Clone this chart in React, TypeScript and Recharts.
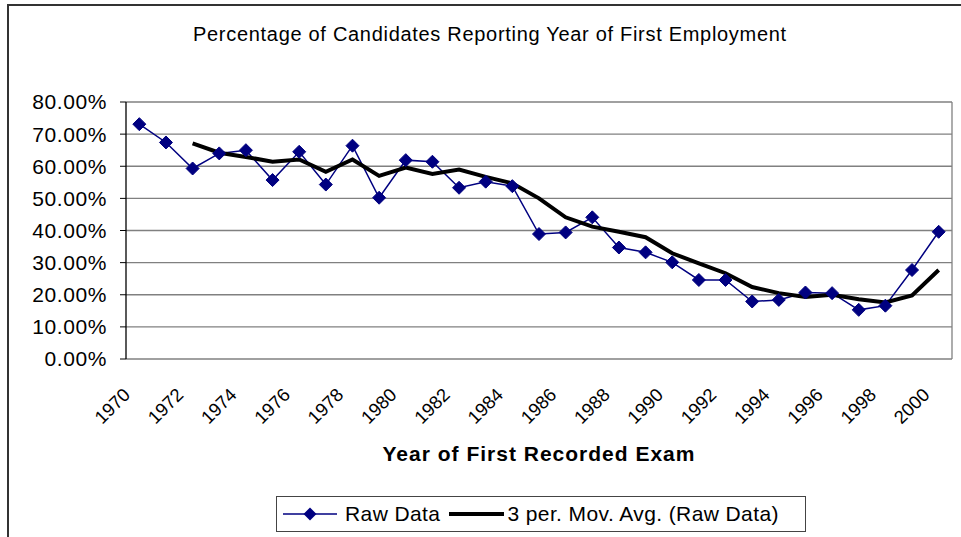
import React from 'react';
import {
  LineChart,
  Line,
  XAxis,
  YAxis,
  CartesianGrid,
  ReferenceLine
} from 'recharts';

// values (percent)
const years = [
  1970, 1971, 1972, 1973, 1974, 1975, 1976, 1977, 1978, 1979,
  1980, 1981, 1982, 1983, 1984, 1985, 1986, 1987, 1988, 1989,
  1990, 1991, 1992, 1993, 1994, 1995, 1996, 1997, 1998, 1999, 2000
];
const rawData = [
  73.1, 67.4, 59.3, 64.0, 65.0, 55.7, 64.5, 54.3, 66.4, 50.2,
  61.9, 61.4, 53.3, 55.2, 53.8, 38.9, 39.4, 44.1, 34.7, 33.2,
  30.1, 24.6, 24.6, 17.9, 18.4, 20.7, 20.5, 15.3, 16.6, 27.7, 39.6
];
const movAvg = [
  null, null, 67.1, 64.2, 62.9, 61.4, 62.1, 58.3, 62.1, 57.0,
  59.6, 57.6, 59.0, 56.7, 54.7, 50.0, 44.1, 41.2, 39.6, 37.9,
  32.9, 29.8, 26.7, 22.4, 20.5, 19.3, 20.0, 18.6, 17.6, 19.8, 27.7
];
const yTicks = [0, 10, 20, 30, 40, 50, 60, 70, 80];
const labelYears = [
  1970, 1972, 1974, 1976, 1978, 1980, 1982, 1984,
  1986, 1988, 1990, 1992, 1994, 1996, 1998, 2000
];
const boundaryTicks = [
  1969.5, 1970.5, 1971.5, 1972.5, 1973.5, 1974.5, 1975.5, 1976.5,
  1977.5, 1978.5, 1979.5, 1980.5, 1981.5, 1982.5, 1983.5, 1984.5,
  1985.5, 1986.5, 1987.5, 1988.5, 1989.5, 1990.5, 1991.5, 1992.5,
  1993.5, 1994.5, 1995.5, 1996.5, 1997.5, 1998.5, 1999.5, 2000.5
];

const chartData = years.map((year, i) => ({
  year,
  raw: rawData[i],
  avg: movAvg[i]
}));

const FONT = '"Liberation Sans", Arial, sans-serif';
const NAVY = '#000080';

const Diamond = (props: any) => {
  const { cx, cy } = props;
  if (cx == null || cy == null) return null;
  const r = 6.5;
  return (
    <path
      d={`M${cx},${cy - r}L${cx + r},${cy}L${cx},${cy + r}L${cx - r},${cy}Z`}
      fill={NAVY}
      stroke={NAVY}
    />
  );
};

const YearTick = (props: any) => {
  const { x, y, payload } = props;
  const ax = x - 8;
  const ay = y + 29;
  return (
    <text
      x={ax}
      y={ay}
      textAnchor="end"
      transform={`rotate(-45, ${ax}, ${ay})`}
      fontFamily={FONT}
      fontSize={18.5}
      fill="#000"
    >
      {payload.value}
    </text>
  );
};

function LegendBox() {
  return (
    <div
      style={{
        position: 'absolute',
        left: 276,
        top: 496,
        width: 522,
        height: 34,
        border: '1px solid #444',
        background: '#fff',
        display: 'flex',
        alignItems: 'center',
        paddingLeft: 6,
        fontFamily: FONT,
        fontSize: 21,
        letterSpacing: 0.4,
        whiteSpace: 'nowrap'
      }}
    >
      <svg width={54} height={16} style={{ marginRight: 8, flex: 'none' }}>
        <line x1={0} y1={8} x2={54} y2={8} stroke={NAVY} strokeWidth={1.5} />
        <path d="M27,1.5L33.5,8L27,14.5L20.5,8Z" fill={NAVY} />
      </svg>
      <span>Raw Data</span>
      <svg width={55} height={16} style={{ margin: '0 3px 0 9px', flex: 'none' }}>
        <line x1={0} y1={8} x2={55} y2={8} stroke="#000" strokeWidth={4} />
      </svg>
      <span>3 per. Mov. Avg. (Raw Data)</span>
    </div>
  );
}

export default function App() {
  return (
    <div
      style={{
        position: 'absolute',
        left: 0,
        top: 0,
        width: 961,
        height: 537,
        overflow: 'hidden',
        background: '#fff'
      }}
    >
      <div
        style={{
          position: 'absolute',
          left: 7,
          top: 4,
          width: 1000,
          height: 600,
          border: '2px solid #333'
        }}
      />
      <div
        style={{
          position: 'absolute',
          left: 193,
          top: 24,
          fontFamily: FONT,
          fontSize: 20,
          lineHeight: 1,
          letterSpacing: 0.7,
          whiteSpace: 'nowrap',
          color: '#000'
        }}
      >
        Percentage of Candidates Reporting Year of First Employment
      </div>
      <div style={{ position: 'absolute', left: 0, top: 0 }}>
        <LineChart
          width={961}
          height={537}
          data={chartData}
          margin={{ top: 102, right: 9, left: 0, bottom: 0 }}
        >
          <CartesianGrid
            vertical={false}
            stroke="#808080"
            strokeWidth={1.3}
          />
          <XAxis
            dataKey="year"
            type="number"
            domain={[1969.5, 2000.5]}
            ticks={boundaryTicks}
            interval={0}
            tickFormatter={() => ''}
            tickSize={5}
            height={0}
            stroke="#000"
            axisLine={{ stroke: '#000', strokeWidth: 1.3 }}
            tickLine={{ stroke: '#000' }}
            allowDataOverflow
          />
          <XAxis
            xAxisId="lbl"
            dataKey="year"
            type="number"
            domain={[1969.5, 2000.5]}
            ticks={labelYears}
            interval={0}
            axisLine={false}
            tickLine={false}
            tick={<YearTick />}
            height={178}
            allowDataOverflow
          />
          <YAxis
            domain={[0, 80]}
            ticks={yTicks}
            interval={0}
            width={126}
            tickSize={6}
            tickMargin={13}
            tickFormatter={(v: number) => v.toFixed(2) + '%'}
            tick={{ fontFamily: FONT, fontSize: 21, fill: '#000', letterSpacing: 0.6 }}
            axisLine={{ stroke: '#000', strokeWidth: 1.3 }}
            tickLine={{ stroke: '#000' }}
          />
          <ReferenceLine x={2000.5} stroke="#808080" strokeWidth={1.3} />
          <Line
            dataKey="raw"
            stroke={NAVY}
            strokeWidth={1.5}
            dot={<Diamond />}
            activeDot={false}
            isAnimationActive={false}
          />
          <Line
            dataKey="avg"
            stroke="#000"
            strokeWidth={4}
            dot={false}
            activeDot={false}
            isAnimationActive={false}
          />
        </LineChart>
      </div>
      <div
        style={{
          position: 'absolute',
          left: 126,
          width: 826,
          top: 443,
          textAlign: 'center',
          fontFamily: FONT,
          fontSize: 21,
          fontWeight: 'bold',
          letterSpacing: 1,
          lineHeight: 1,
          whiteSpace: 'nowrap'
        }}
      >
        Year of First Recorded Exam
      </div>
      <LegendBox />
    </div>
  );
}
